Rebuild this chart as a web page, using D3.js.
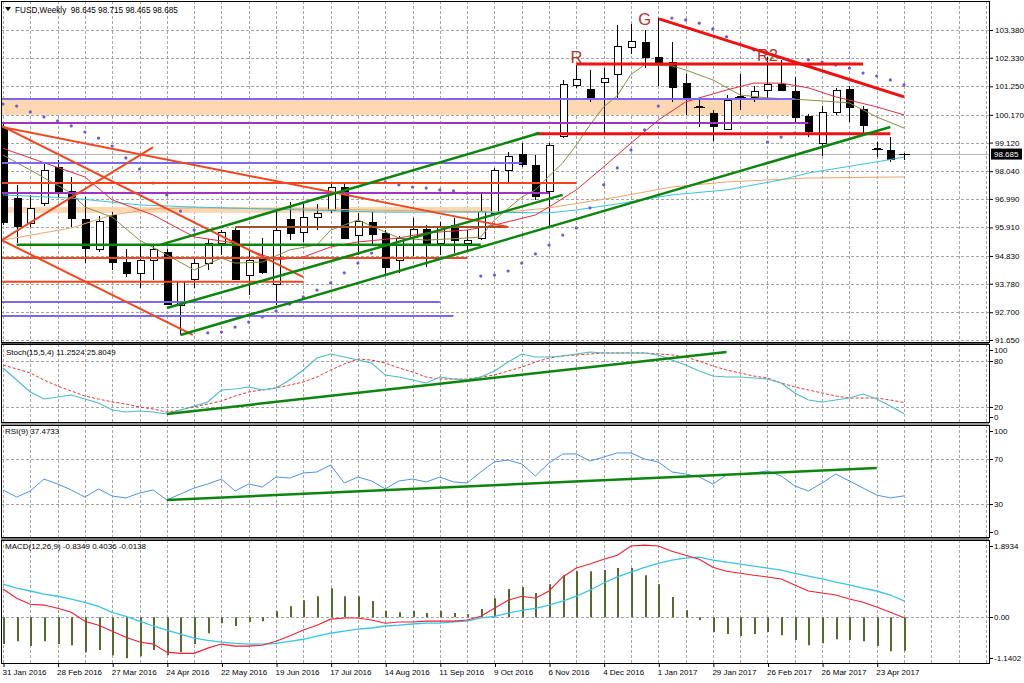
<!DOCTYPE html>
<html>
<head>
<meta charset="utf-8">
<script src="https://cdn.jsdelivr.net/npm/d3@7"></script>
<style>
body { margin: 0; background: #fff; }
svg { display: block; font-family: "Liberation Sans", Arial, sans-serif; }
</style>
</head>
<body>
<svg id="chart" width="1024" height="683"></svg>
<script>
// ---- data (weekly bars, 31 Jan 2016 .. 7 May 2017) ----
const opens  = [99.67,97.02,96.08,96.84,98.20,97.29,96.23,95.09,96.38,94.60,94.19,94.68,94.98,92.97,93.96,94.57,95.32,95.81,94.11,94.75,93.77,96.23,95.74,96.30,96.57,97.44,95.62,96.11,95.70,94.68,95.55,95.85,95.32,96.00,95.32,95.51,96.45,98.08,98.69,98.27,97.29,99.37,101.30,101.15,101.41,101.72,102.74,102.93,102.36,102.17,101.38,100.52,100.24,99.63,100.90,100.85,101.11,101.34,101.07,100.13,99.10,100.28,101.15,100.39,98.90,98.84,98.645];
const highs  = [99.90,97.52,97.14,98.35,98.46,97.82,97.06,96.34,96.50,95.10,95.20,95.28,95.10,93.90,94.80,95.47,95.81,95.88,95.06,95.51,96.65,96.87,96.87,96.80,97.63,97.63,96.45,96.49,95.80,95.60,96.27,96.00,96.10,96.27,95.81,97.21,98.15,98.76,99.10,98.65,99.10,101.49,102.06,101.87,101.94,103.57,103.60,103.38,103.83,102.93,101.72,100.73,100.35,100.92,101.72,101.26,102.36,102.25,101.60,100.20,100.50,101.19,101.26,100.50,99.15,99.33,98.715];
const lows   = [96.00,95.32,95.93,96.72,97.06,95.93,94.56,94.98,94.30,94.03,93.62,93.92,92.97,91.84,93.62,94.30,94.87,93.92,93.35,94.15,92.97,95.43,95.36,95.80,96.45,95.47,94.87,95.24,94.11,94.19,94.83,94.41,94.87,94.94,95.06,95.43,96.40,97.63,98.19,96.95,95.93,99.30,101.19,100.66,99.48,100.73,102.47,101.94,101.26,100.66,100.17,99.71,99.18,99.60,100.35,100.66,100.73,101.07,99.90,99.33,98.61,100.17,99.90,99.48,98.57,98.40,98.465];
const closes = [96.10,95.96,96.65,98.08,97.25,96.27,95.13,96.15,94.60,94.19,94.68,95.10,93.00,93.88,94.57,95.32,95.74,93.96,94.68,94.22,95.81,95.70,96.30,96.45,97.44,95.51,96.15,95.66,94.41,95.51,95.85,95.32,95.96,95.43,95.43,96.53,98.08,98.61,98.30,97.10,99.03,101.34,101.53,100.81,101.57,102.78,102.96,102.36,102.13,101.22,100.85,100.48,99.75,100.73,100.86,101.07,101.34,101.11,100.09,99.56,100.28,101.11,100.47,99.79,98.88,98.50,98.685];

const sar = [100.58,100.50,100.28,100.09,99.94,99.75,99.52,99.29,98.99,98.54,98.12,97.59,97.14,96.53,95.81,91.92,91.95,92.14,92.33,92.52,92.75,93.01,93.28,93.54,93.81,94.19,94.56,94.94,97.63,97.52,97.44,97.40,97.33,97.29,97.21,94.07,94.11,94.26,94.56,94.91,95.24,95.62,95.89,96.65,97.52,98.16,98.84,99.60,100.50,103.83,103.76,103.64,103.42,103.12,102.85,102.62,99.14,99.33,99.48,102.25,102.17,102.06,101.94,101.75,101.64,101.49,101.30];

// moving averages as [bar, price] points
const maFastPts = [[0,98.65],[2,98.08],[5,97.21],[6,96.68],[8,96.30],[10,95.43],[12,94.87],[14,94.30],[16,94.75],[17,94.56],[19,94.60],[21,95.06],[23,95.25],[24,95.81],[26,96.19],[29,95.51],[31,95.43],[34,95.51],[35,95.55],[36,96.19],[38,97.06],[39,97.33],[40,97.85],[41,98.35],[42,99.03],[43,99.79],[44,100.47],[45,100.90],[46,101.70],[47,102.06],[49,102.02],[50,101.87],[52,101.49],[54,100.92],[56,100.81],[59,100.73],[61,100.66],[62,100.62],[64,100.09],[66,99.67]];
const maMidPts  = [[0,98.90],[2,98.54],[6,97.82],[8,96.95],[11,96.38],[14,95.55],[17,95.32],[18,95.06],[20,94.68],[22,94.79],[24,95.17],[26,95.36],[29,95.51],[31,95.70],[34,95.81],[36,96.00],[39,96.38],[40,96.68],[42,97.33],[44,98.20],[46,99.10],[48,99.97],[50,100.66],[53,101.11],[55,101.37],[57,101.37],[59,101.19],[61,100.85],[64,100.47],[66,100.17]];
const maSlowPts = [[0,97.14],[5,97.02],[10,96.76],[14,96.68],[22,96.57],[28,96.49],[35,96.49],[40,96.46],[42,96.57],[45,96.80],[49,97.14],[53,97.33],[57,97.71],[59,97.97],[64,98.39],[66,98.57]];
const maLongPts = [[0,95.43],[5,95.89],[8,96.38],[11,96.61],[14,96.65],[22,96.61],[37,96.49],[40,96.65],[45,97.06],[49,97.44],[53,97.63],[59,97.78],[66,97.82]];

const stochMain   = [70.9,55.2,39.6,30.4,33.0,35.7,30.4,25.2,16.1,13.4,14.8,13.4,10.8,16.1,21.3,26.5,42.2,43.5,46.1,42.2,44.8,55.2,68.3,83.9,89.2,85.2,81.3,77.4,61.7,59.1,55.2,51.3,59.1,56.5,55.2,59.1,66.9,78.7,89.2,85.2,85.2,86.6,89.2,91.8,90.5,90.5,90.5,90.5,87.9,81.3,74.8,66.9,60.4,59.1,59.1,57.8,56.5,51.3,38.3,29.1,26.5,29.1,31.7,37.0,30.4,21.3,11.25];
const stochSignal = [74.8,69.6,64.4,55.2,47.4,40.9,34.3,30.4,26.5,23.9,20.0,17.4,13.4,16.1,20.0,23.9,27.8,34.3,39.6,42.2,44.8,48.7,52.6,59.1,68.3,76.1,82.6,81.3,77.4,70.9,65.7,59.1,56.5,56.5,56.5,59.1,61.7,66.9,72.1,78.7,83.9,86.6,87.9,89.2,90.5,90.5,90.5,90.5,89.2,87.9,85.2,80.0,73.5,68.3,64.4,60.4,57.8,51.3,46.1,42.2,38.3,34.3,31.7,31.7,31.7,29.1,25.80];
const rsi = [42.7,36.4,41.8,52.4,48.0,42.7,36.4,43.6,37.3,35.6,40.0,42.7,33.8,39.1,44.4,48.0,52.4,41.8,48.0,45.3,54.2,53.3,57.8,58.7,64.9,48.9,54.2,50.7,43.6,50.7,52.4,49.8,54.2,49.8,48.9,58.7,67.6,69.3,65.8,55.1,66.7,74.7,74.7,68.4,72.0,75.6,75.6,70.2,67.6,58.7,56.9,54.2,48.0,56.0,56.9,57.8,59.6,55.1,46.2,41.8,48.9,56.9,50.7,44.4,38.2,35.6,37.47];
const macdHist   = [-0.67,-0.60,-0.72,-0.60,-0.67,-0.70,-0.87,-0.82,-0.95,-1.02,-0.97,-0.82,-0.95,-0.87,-0.67,-0.40,-0.15,-0.22,-0.12,-0.10,0.15,0.27,0.42,0.52,0.72,0.52,0.52,0.40,0.15,0.12,0.15,0.10,0.15,0.10,0.07,0.20,0.47,0.70,0.75,0.60,0.82,1.04,1.14,1.14,1.17,1.22,1.22,1.04,0.82,0.50,0.17,-0.07,-0.37,-0.42,-0.47,-0.42,-0.37,-0.45,-0.57,-0.70,-0.65,-0.55,-0.57,-0.60,-0.72,-0.85,-0.8349];
const macdMain   = [0.70,0.47,0.32,0.30,0.22,0.12,-0.10,-0.20,-0.35,-0.50,-0.62,-0.67,-0.87,-0.90,-0.90,-0.77,-0.67,-0.72,-0.72,-0.70,-0.60,-0.47,-0.32,-0.20,-0.05,-0.02,-0.02,-0.07,-0.15,-0.12,-0.12,-0.10,-0.10,-0.10,-0.07,0.02,0.22,0.42,0.52,0.47,0.65,1.00,1.22,1.32,1.44,1.54,1.77,1.79,1.77,1.64,1.54,1.44,1.24,1.14,1.09,1.04,1.00,0.95,0.80,0.65,0.60,0.55,0.45,0.37,0.25,0.12,-0.0138];
const macdSignal = [0.82,0.72,0.65,0.57,0.52,0.45,0.37,0.27,0.12,0.02,-0.10,-0.22,-0.32,-0.42,-0.52,-0.58,-0.62,-0.65,-0.67,-0.67,-0.65,-0.60,-0.55,-0.47,-0.40,-0.35,-0.30,-0.27,-0.22,-0.20,-0.17,-0.15,-0.15,-0.12,-0.10,-0.02,0.02,0.10,0.17,0.22,0.30,0.40,0.52,0.67,0.85,1.00,1.12,1.24,1.34,1.42,1.47,1.49,1.42,1.37,1.32,1.27,1.22,1.17,1.09,1.02,0.95,0.87,0.80,0.72,0.65,0.55,0.4036];

// drawn objects: [price, fromBar, toBar, kind]
const levels = [
  [100.77, -1, 58, "violet"], [99.86, -1, 59, "purple"],
  [102.09, 42, 63, "red"], [99.45, 39, 65, "red"],
  [98.35, -1, 38, "violet"], [97.59, -1, 42, "orange"], [97.21, -1, 40, "purple"],
  [95.93, 17, 37, "brown"], [95.25, 1, 35, "green"],
  [94.75, -1, 34, "orange"], [93.85, -1, 22, "orange"],
  [93.09, -1, 32, "violet"], [92.56, -1, 33, "violet"]
];
// zones: [priceTop, priceBottom, fromBar, toBar]
const zones = [[100.77, 100.17, -1, 58], [96.68, 96.46, -1, 36]];
// trend lines: [bar1, price1, bar2, price2, kind]
const trends = [
  [-0.1, 99.71, 37, 95.93, "orange"], [-0.1, 99.75, 22, 94.03, "orange"],
  [-0.1, 95.43, 11, 98.95, "orange"], [-0.1, 95.43, 13.9, 91.84, "orange"],
  [11.5, 95.25, 39.3, 99.48, "green"], [12, 92.86, 41, 97.14, "green"],
  [13, 91.84, 65, 99.71, "green"], [48.06, 103.80, 66, 100.85, "red"]
];
const stochTrend = [12, 10.8, 53, 91.8];
const rsiTrend = [12, 33.8, 64, 62.2];
const marks = ["R", "G", "R2"];
const markBars = [42, 47, 56];
const markPrices = [102.13, 103.57, 102.21];

const priceTicks = [103.38,102.33,101.25,100.17,99.12,98.04,96.99,95.91,94.83,93.78,92.70,91.65];
const dateBars = [0,4,8,12,16,20,24,28,32,36,40,44,48,52,56,60,64];
const dateLabels = ["31 Jan 2016","28 Feb 2016","27 Mar 2016","24 Apr 2016","22 May 2016","19 Jun 2016","17 Jul 2016","14 Aug 2016","11 Sep 2016","9 Oct 2016","6 Nov 2016","4 Dec 2016","1 Jan 2017","29 Jan 2017","26 Feb 2017","26 Mar 2017","23 Apr 2017"];
const lastPrice = 98.685;

// ---- styles ----
const kindStyle = {
  violet: {color: "#7b68ee", width: 2},
  purple: {color: "#a034c0", width: 2},
  red:    {color: "#f01010", width: 3},
  orange: {color: "#f2461e", width: 2},
  brown:  {color: "#a0522d", width: 2},
  green:  {color: "#0c850c", width: 2.5}
};

const left = 1, right = 989;
const panels = {
  main:  {top: 1,   bottom: 342},
  stoch: {top: 344, bottom: 422},
  rsi:   {top: 425, bottom: 537},
  macd:  {top: 540, bottom: 663}
};

const svg = d3.select("#chart");
const x = d3.scaleLinear().domain([0, 66]).range([3, 904]);
const yMain  = d3.scaleLinear().domain([91.65, 103.38]).range([340, 30]);
const yStoch = d3.scaleLinear().domain([0, 100]).range([422.3, 345.7]);
const yRsi   = d3.scaleLinear().domain([0, 100]).range([538, 425.5]);
const yMacd  = d3.scaleLinear().domain([-1.1402, 1.8934]).range([663, 541]);

function px(v) { return Math.round(v) + 0.5; }

function makePanel(name) {
  let p = panels[name];
  svg.append("clipPath").attr("id", "clip-" + name)
    .append("rect")
      .attr("x", left + 1).attr("y", p.top + 1)
      .attr("width", right - left - 1).attr("height", p.bottom - p.top - 1);

  let g = svg.append("g").attr("class", "panel-" + name);
  let inner = g.append("g").attr("clip-path", "url(#clip-" + name + ")");

  // vertical grid every 2 bars
  inner.append("g").selectAll("line").data(d3.range(0, 74, 2)).enter().append("line")
    .attr("x1", d => px(x(d))).attr("x2", d => px(x(d)))
    .attr("y1", p.top).attr("y2", p.bottom)
    .attr("stroke", "#a4a4a4").attr("stroke-dasharray", "3,2")
    .attr("shape-rendering", "crispEdges");

  g.append("rect")
    .attr("x", left + 0.5).attr("y", p.top + 0.5)
    .attr("width", right - left).attr("height", p.bottom - p.top)
    .attr("fill", "none").attr("stroke", "#000")
    .attr("shape-rendering", "crispEdges");

  return {g: g, inner: inner, p: p};
}

function hGrid(inner, values, scale) {
  inner.append("g").selectAll("line").data(values).enter().append("line")
    .attr("x1", left).attr("x2", right)
    .attr("y1", d => px(scale(d))).attr("y2", d => px(scale(d)))
    .attr("stroke", "#a4a4a4").attr("stroke-dasharray", "3,2")
    .attr("shape-rendering", "crispEdges");
}

function sideLabels(g, p, values, labels, scale) {
  let items = values.map((v, i) => ({v: v, t: labels[i],
    y: Math.min(Math.max(scale(v), p.top + 6), p.bottom - 5)}));
  g.append("g").selectAll("line").data(items).enter().append("line")
    .attr("x1", right).attr("x2", right + 4)
    .attr("y1", d => px(d.y)).attr("y2", d => px(d.y))
    .attr("stroke", "#000").attr("shape-rendering", "crispEdges");
  g.append("g").selectAll("text").data(items).enter().append("text")
    .attr("x", right + 5).attr("y", d => d.y).attr("dy", "0.35em")
    .attr("font-size", "8px").attr("fill", "#000")
    .text(d => d.t);
}

// background + separators
svg.append("rect").attr("width", 1024).attr("height", 683).attr("fill", "#fff");
svg.append("rect").attr("x", left).attr("y", 342).attr("width", right - left).attr("height", 2).attr("fill", "#555");
svg.append("rect").attr("x", left).attr("y", 422).attr("width", right - left).attr("height", 3).attr("fill", "#9a9a9a");
svg.append("rect").attr("x", left).attr("y", 537).attr("width", right - left).attr("height", 3).attr("fill", "#777");

// ================= main price panel =================
function renderMain() {
  let mp = makePanel("main");
  let g = mp.inner;
  hGrid(g, priceTicks, yMain);

  // zones (background rectangles)
  g.append("g").selectAll("rect").data(zones).enter().append("rect")
    .attr("x", d => x(d[2])).attr("width", d => x(d[3]) - x(d[2]))
    .attr("y", d => yMain(d[0])).attr("height", d => yMain(d[1]) - yMain(d[0]))
    .attr("fill", "#fcd7b2");

  // current price line
  g.append("line")
    .attr("x1", left).attr("x2", right)
    .attr("y1", px(yMain(lastPrice))).attr("y2", px(yMain(lastPrice)))
    .attr("stroke", "#b4b4b4").attr("shape-rendering", "crispEdges");

  // candles
  let bars = d3.range(opens.length);
  g.append("g").selectAll("line").data(bars).enter().append("line")
    .attr("x1", i => px(x(i))).attr("x2", i => px(x(i)))
    .attr("y1", i => yMain(highs[i])).attr("y2", i => yMain(lows[i]))
    .attr("stroke", "#000").attr("shape-rendering", "crispEdges");

  g.append("g").selectAll("rect").data(bars).enter().append("rect")
    .attr("x", i => Math.round(x(i)) - 3)
    .attr("width", 7)
    .attr("y", i => {
      let top = yMain(Math.max(opens[i], closes[i]));
      let h = Math.abs(yMain(opens[i]) - yMain(closes[i]));
      return h < 1.5 ? Math.round(top) : Math.round(top) + 0.5; })
    .attr("height", i => {
      let h = Math.abs(yMain(opens[i]) - yMain(closes[i]));
      return h < 1.5 ? 1 : Math.round(h); })
    .attr("fill", i => {
      let h = Math.abs(yMain(opens[i]) - yMain(closes[i]));
      if (h < 1.5) return "#000";
      return closes[i] >= opens[i] ? "#fff" : "#000"; })
    .attr("stroke", i => Math.abs(yMain(opens[i]) - yMain(closes[i])) < 1.5 ? "none" : "#000")
    .attr("shape-rendering", "crispEdges");

  // doji crosses a bit wider
  g.append("g").selectAll("line").data(bars.filter(i => Math.abs(yMain(opens[i]) - yMain(closes[i])) < 1.5))
    .enter().append("line")
    .attr("x1", i => Math.round(x(i)) - 5).attr("x2", i => Math.round(x(i)) + 6)
    .attr("y1", i => px(yMain(closes[i]))).attr("y2", i => px(yMain(closes[i])))
    .attr("stroke", "#000").attr("shape-rendering", "crispEdges");

  // moving averages
  let maLine = d3.line().x(d => x(d[0])).y(d => yMain(d[1]));
  let mas = [[maLongPts, "#efa56a"], [maSlowPts, "#38c4e0"], [maMidPts, "#ea2a3a"], [maFastPts, "#8c8c40"]];
  g.append("g").selectAll("path").data(mas).enter().append("path")
    .attr("d", d => maLine(d[0]))
    .attr("fill", "none").attr("stroke", d => d[1]).attr("stroke-width", 1);

  // parabolic SAR
  g.append("g").selectAll("circle").data(sar).enter().append("circle")
    .attr("cx", (d, i) => x(i)).attr("cy", d => yMain(d))
    .attr("r", 1.6).attr("fill", "#6a5bd8");

  // horizontal levels
  g.append("g").selectAll("line").data(levels).enter().append("line")
    .attr("x1", d => x(d[1])).attr("x2", d => x(d[2]))
    .attr("y1", d => yMain(d[0])).attr("y2", d => yMain(d[0]))
    .attr("stroke", d => kindStyle[d[3]].color)
    .attr("stroke-width", d => kindStyle[d[3]].width);

  // trend lines
  g.append("g").selectAll("line").data(trends).enter().append("line")
    .attr("x1", d => x(d[0])).attr("y1", d => yMain(d[1]))
    .attr("x2", d => x(d[2])).attr("y2", d => yMain(d[3]))
    .attr("stroke", d => kindStyle[d[4]].color)
    .attr("stroke-width", d => kindStyle[d[4]].width);

  // text marks
  g.append("g").selectAll("text").data(marks).enter().append("text")
    .attr("x", (d, i) => x(markBars[i]))
    .attr("y", (d, i) => yMain(markPrices[i]))
    .attr("text-anchor", "middle")
    .attr("font-size", "16.5px")
    .attr("fill", "#b8352a")
    .text(d => d);

  // header
  mp.g.append("path")
    .attr("d", "M5,7 L11,7 L8,11 Z").attr("fill", "#000");
  mp.g.append("text")
    .attr("x", 15).attr("y", 12.5)
    .attr("font-size", "8.2px").attr("fill", "#000")
    .attr("xml:space", "preserve")
    .text("FUSD,Weekly  98.645 98.715 98.465 98.685");

  // price axis
  let axis = d3.axisRight(yMain).tickValues(priceTicks).tickFormat(d3.format(".3f")).tickSize(4).tickPadding(2);
  let ax = mp.g.append("g").attr("transform", "translate(" + right + ",0)").call(axis);
  ax.select(".domain").remove();
  ax.selectAll("text").attr("font-size", "8px").attr("font-family", "Liberation Sans, Arial, sans-serif");

  // current price label
  mp.g.append("rect")
    .attr("x", right + 2).attr("y", yMain(lastPrice) - 5.5)
    .attr("width", 31).attr("height", 11).attr("fill", "#000");
  mp.g.append("text")
    .attr("x", right + 5).attr("y", yMain(lastPrice)).attr("dy", "0.35em")
    .attr("font-size", "8px").attr("fill", "#fff")
    .text(d3.format(".3f")(lastPrice));
}

// ================= stochastic =================
function renderStoch() {
  let sp = makePanel("stoch");
  hGrid(sp.inner, [80, 20], yStoch);
  let line = d3.line().x((d, i) => x(i)).y(d => yStoch(d));
  sp.inner.append("path").attr("d", line(stochSignal))
    .attr("fill", "none").attr("stroke", "#f03030").attr("stroke-dasharray", "3,2");
  sp.inner.append("path").attr("d", line(stochMain))
    .attr("fill", "none").attr("stroke", "#4cbcc4").attr("stroke-width", 1.1);
  sp.inner.append("line")
    .attr("x1", x(stochTrend[0])).attr("y1", yStoch(stochTrend[1]))
    .attr("x2", x(stochTrend[2])).attr("y2", yStoch(stochTrend[3]))
    .attr("stroke", "#0c850c").attr("stroke-width", 2.5);
  sp.g.append("text").attr("x", 6).attr("y", 355)
    .attr("font-size", "8px").text("Stoch(15,5,4) 11.2524 25.8049");
  sideLabels(sp.g, sp.p, [100, 80, 20, 0], ["100", "80", "20", "0"], yStoch);
}

// ================= RSI =================
function renderRsi() {
  let rp = makePanel("rsi");
  hGrid(rp.inner, [70, 30], yRsi);
  let line = d3.line().x((d, i) => x(i)).y(d => yRsi(d));
  rp.inner.append("path").attr("d", line(rsi))
    .attr("fill", "none").attr("stroke", "#4a94e4").attr("stroke-width", 1);
  rp.inner.append("line")
    .attr("x1", x(rsiTrend[0])).attr("y1", yRsi(rsiTrend[1]))
    .attr("x2", x(rsiTrend[2])).attr("y2", yRsi(rsiTrend[3]))
    .attr("stroke", "#0c850c").attr("stroke-width", 2.5);
  rp.g.append("text").attr("x", 5).attr("y", 434)
    .attr("font-size", "8px").text("RSI(9) 37.4733");
  sideLabels(rp.g, rp.p, [100, 70, 30, 0], ["100", "70", "30", "0"], yRsi);
}

// ================= MACD =================
function renderMacd() {
  let mp = makePanel("macd");
  hGrid(mp.inner, [0], yMacd);
  mp.inner.append("g").selectAll("line").data(macdHist).enter().append("line")
    .attr("x1", (d, i) => Math.round(x(i)) + 1).attr("x2", (d, i) => Math.round(x(i)) + 1)
    .attr("y1", yMacd(0)).attr("y2", d => yMacd(d))
    .attr("stroke", "#556b2f").attr("stroke-width", 2);
  let line = d3.line().x((d, i) => x(i)).y(d => yMacd(d));
  mp.inner.append("path").attr("d", line(macdSignal))
    .attr("fill", "none").attr("stroke", "#38c4e8").attr("stroke-width", 1.3);
  mp.inner.append("path").attr("d", line(macdMain))
    .attr("fill", "none").attr("stroke", "#f02030").attr("stroke-width", 1.1);
  mp.g.append("text").attr("x", 5).attr("y", 549)
    .attr("font-size", "8px").text("MACD(12,26,9) -0.8349 0.4036 -0.0138");
  sideLabels(mp.g, mp.p, [1.8934, 0, -1.1402], ["1.8934", "0.00", "-1.1402"], yMacd);

  // time axis
  let axis = d3.axisBottom(x).tickValues(dateBars).tickFormat((d, i) => dateLabels[i]).tickSize(4).tickPadding(2);
  let ax = svg.append("g").attr("transform", "translate(0," + panels.macd.bottom + ")").call(axis);
  ax.select(".domain").remove();
  ax.selectAll("line").attr("transform", "translate(0.5,0)");
  ax.selectAll("text")
    .attr("text-anchor", "start").attr("x", -1)
    .attr("font-size", "8px").attr("font-family", "Liberation Sans, Arial, sans-serif");
}

renderMain();
renderStoch();
renderRsi();
renderMacd();
</script>
</body>
</html>
